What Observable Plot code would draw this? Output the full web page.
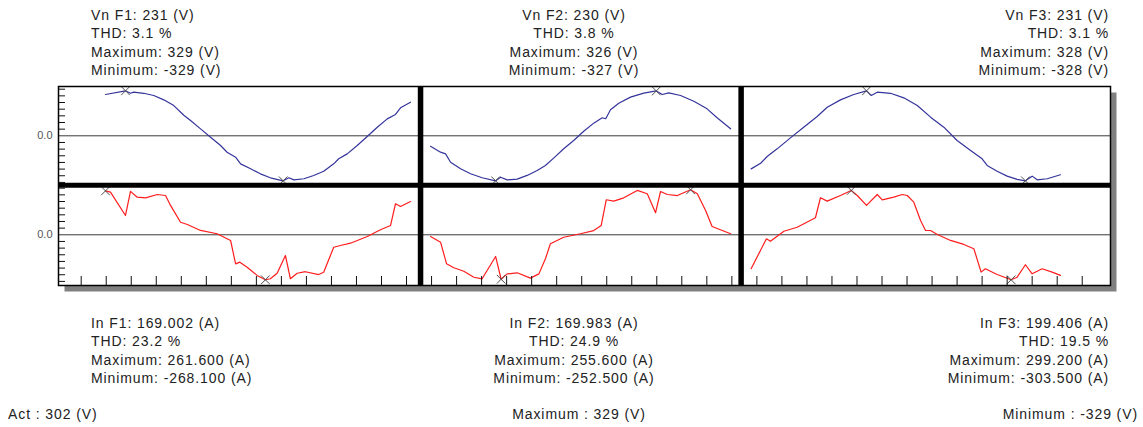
<!DOCTYPE html>
<html><head><meta charset="utf-8">
<script src="https://cdn.jsdelivr.net/npm/d3@7"></script>
<script src="https://cdn.jsdelivr.net/npm/@observablehq/plot@0.6"></script>
<style>
body{margin:0;background:#fff}
#wrap{width:1143px;height:427px;font-family:"Liberation Sans",Arial,sans-serif;font-size:14px;letter-spacing:0.9px;color:#222;line-height:18.3px;overflow:hidden}
#topText{position:relative;height:80px}
#bottomText{position:relative;height:132px}
#chart{height:215px;letter-spacing:normal}
.blk{position:absolute;white-space:nowrap}
</style></head><body>
<div id="wrap">
  <div id="topText"></div>
  <div id="chart"></div>
  <div id="bottomText"></div>
</div>
<script>
// ---- labels / statistics ----
const phases = ["F1", "F2", "F3"];
const vRms = [231, 230, 231];
const vThd = [3.1, 3.8, 3.1];
const vMax = [329, 326, 328];
const vMin = [-329, -327, -328];
const iRms = [169.002, 169.983, 199.406];
const iThd = [23.2, 24.9, 19.5];
const iMax = [261.6, 255.6, 299.2];
const iMin = [-268.1, -252.5, -303.5];
const actV = 302, totMaxV = 329, totMinV = -329;

// ---- waveform samples (time in tick units, values in V / A) ----
const v1t = [0.97,1.77,1.97,2.10,2.50,2.90,3.30,3.70,4.10,4.37,4.77,5.17,5.57,5.83,6.17,6.37,6.77,7.16,7.56,8.07,8.30,8.50,8.90,9.29,9.69,10.09,10.29,10.63,11.03,11.43,11.83,12.23,12.56,12.76,13.16];
const v1  = [302,329,311,319,311,295,263,221,150,112,51,-10,-71,-120,-156,-205,-241,-278,-307,-329,-307,-322,-314,-290,-259,-205,-168,-132,-71,-5,63,124,156,205,246];
const i1t = [0.97,1.17,1.77,1.97,2.24,2.57,3.04,3.37,3.57,3.97,4.24,4.77,5.43,5.97,6.17,6.34,6.63,7.03,7.36,7.56,7.83,8.16,8.36,8.63,8.96,9.49,9.69,10.09,10.36,10.76,11.43,11.96,12.36,12.56,12.76,13.16];
const i1  = [261.6,254,115,259,224,220,240,234,175,75,61,26,6,-34,-173,-163,-193,-242,-268.1,-262,-229,-123,-262,-229,-220,-237,-223,-74,-64,-50,-10,30,55,185,169,198];
const v2t = [13.96,14.36,14.56,14.76,15.16,15.56,16.02,16.56,16.76,17.02,17.42,17.82,18.22,18.55,18.89,19.28,19.68,20.08,20.48,20.82,20.96,21.15,21.48,21.95,22.48,22.98,23.22,23.48,23.95,24.48,25.01,25.41,25.95];
const v2  = [-76,-119,-131,-192,-240,-276,-305,-327,-301,-320,-315,-288,-252,-216,-160,-94,-34,33,92,131,124,189,237,281,310,326,300,312,293,251,196,131,51];
const i2t = [13.96,14.36,14.60,14.89,15.29,15.69,16.02,16.56,16.78,17.02,17.42,17.95,18.29,18.55,18.75,19.28,19.95,20.48,20.78,20.98,21.28,21.68,22.22,22.62,22.95,23.15,23.42,23.82,24.35,24.62,24.95,25.21,25.95];
const i2  = [-10,-42,-165,-187,-207,-241,-250,-123,-252.5,-222,-216,-246,-222,-136,-51,-14,6,24,53,199,191,210,252,233,125,246,229,223,255.6,233,138,47,6];
const v3t = [26.77,27.15,27.41,27.81,28.34,28.87,29.41,29.81,30.34,30.87,31.38,31.57,31.81,32.34,32.87,33.41,33.94,34.47,35.00,35.54,36.00,36.20,36.60,37.00,37.40,37.73,38.00,38.20,38.60,39.13];
const v3  = [-241,-200,-151,-95,-15,63,141,208,262,301,328,294,318,310,277,221,136,63,-34,-107,-168,-216,-258,-294,-318,-328,-294,-321,-313,-284];
const i3t = [26.77,27.38,27.54,28.08,28.61,29.34,29.54,29.81,30.34,30.77,31.01,31.38,31.81,32.01,32.47,32.81,33.01,33.27,33.54,33.74,33.94,34.21,34.74,35.27,35.67,35.96,36.13,36.60,37.16,37.40,37.73,38.00,38.40,38.80,39.13];
const i3  = [-229,-27,-43,24,51,115,250,227,265,299.2,265,198,272,236,254,272,265,220,96,29,29,2,-38,-65,-94,-252,-229,-268,-303.5,-286,-202,-263,-229,-252,-274];

const panelBounds = [13.56, 26.37];
const xTicks = d3.range(0, 41);

// ---- layout of the scales ----
const X_DOMAIN = [-0.907, 41.13];
const ROW = 1.1;                 // zero of voltage row = +ROW, current row = -ROW
const Y_DOMAIN = [-2.227, 2.196];
const yMinor = d3.range(-7, 8).filter(k => k !== 0).flatMap(k => [ROW + k * 0.148, -ROW + k * 0.148]);

function norm(ts, vs, row, kind, panel) {
  const m = d3.max(vs, Math.abs);
  return ts.map((t, i) => ({t, v: vs[i], u: row + vs[i] / m, kind, panel}));
}
const series = [
  norm(v1t, v1, ROW, "V", 1), norm(v2t, v2, ROW, "V", 2), norm(v3t, v3, ROW, "V", 3),
  norm(i1t, i1, -ROW, "I", 1), norm(i2t, i2, -ROW, "I", 2), norm(i3t, i3, -ROW, "I", 3)
];
const rows = series.flat();
const extremes = series.flatMap(s => [d3.greatest(s, d => d.v), d3.least(s, d => d.v)]);

const chart = Plot.plot({
  width: 1143, height: 215,
  marginLeft: 58, marginRight: 33, marginTop: 6, marginBottom: 10,
  style: {fontFamily: "'Liberation Sans', Arial, sans-serif", background: "transparent", overflow: "visible"},
  x: {domain: X_DOMAIN, axis: null, label: null},
  y: {domain: Y_DOMAIN, axis: null, label: null},
  marks: [
    Plot.frame({fill: "#808080", stroke: "none", dx: 6, dy: 6}),
    Plot.frame({fill: "#fff", stroke: "none"}),
    Plot.ruleY([ROW, -ROW], {stroke: "#3a3a3a", strokeWidth: 1}),
    Plot.line(rows.filter(d => d.kind === "V"), {x: "t", y: "u", z: "panel", stroke: "#34349c", strokeWidth: 1.2}),
    Plot.line(rows.filter(d => d.kind === "I"), {x: "t", y: "u", z: "panel", stroke: "#ff1c1c", strokeWidth: 1.2}),
    Plot.dot(extremes, {x: "t", y: "u", symbol: "times", r: 4, stroke: "#505050", strokeWidth: 1}),
    Plot.ruleY([0], {stroke: "#000", strokeWidth: 5}),
    Plot.ruleX(panelBounds, {stroke: "#000", strokeWidth: 5.5}),
    Plot.axisY(yMinor, {anchor: "left", tickSize: -7, tickFormat: () => "", stroke: "#111", label: null}),
    Plot.axisX(xTicks, {anchor: "bottom", tickSize: -9, tickFormat: () => "", stroke: "#111", label: null}),
    Plot.axisY([ROW, -ROW], {anchor: "left", tickSize: 0, tickPadding: 6, tickFormat: () => "0.0", fontSize: 11, fill: "#555", label: null}),
    Plot.frame({stroke: "#000", strokeWidth: 1.5})
  ]
});
document.getElementById("chart").appendChild(chart);

// ---- text blocks ----
function block(parent, lines, css) {
  const d = document.createElement("div");
  d.className = "blk";
  Object.assign(d.style, css);
  lines.forEach(l => { const e = document.createElement("div"); e.textContent = l; d.appendChild(e); });
  parent.appendChild(d);
}
const topBox = document.getElementById("topText");
const bottomBox = document.getElementById("bottomText");
const aligns = [
  {left: "91px", textAlign: "left"},
  {left: "574px", transform: "translateX(-50%)", textAlign: "center"},
  {right: "34px", textAlign: "right"}
];
phases.forEach((p, k) => {
  block(topBox, [
    `Vn ${p}: ${vRms[k]} (V)`, `THD: ${vThd[k].toFixed(1)} %`,
    `Maximum: ${vMax[k]} (V)`, `Minimum: ${vMin[k]} (V)`
  ], Object.assign({top: "6.2px"}, aligns[k]));
  block(bottomBox, [
    `In ${p}: ${iRms[k].toFixed(3)} (A)`, `THD: ${iThd[k].toFixed(1)} %`,
    `Maximum: ${iMax[k].toFixed(3)} (A)`, `Minimum: ${iMin[k].toFixed(3)} (A)`
  ], Object.assign({top: "19.2px"}, aligns[k]));
});
block(bottomBox, [`Act : ${actV} (V)`], {top: "109.5px", left: "8px"});
block(bottomBox, [`Maximum : ${totMaxV} (V)`], {top: "109.5px", left: "579px", transform: "translateX(-50%)", textAlign: "center"});
block(bottomBox, [`Minimum : ${totMinV} (V)`], {top: "109.5px", right: "5px", textAlign: "right"});
</script>
</body></html>
